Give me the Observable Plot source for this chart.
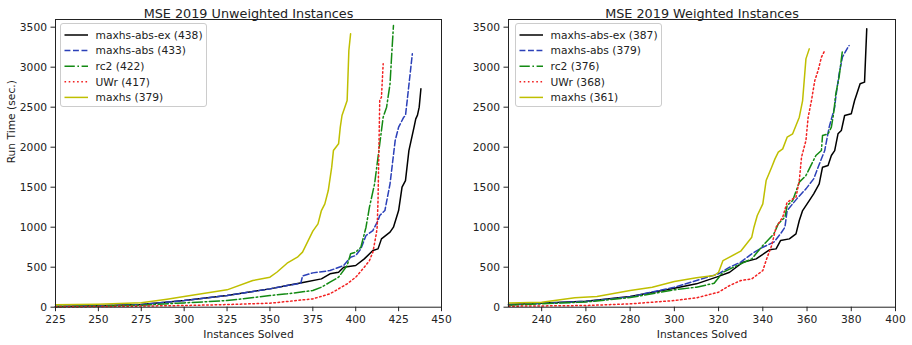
<!DOCTYPE html>
<html>
<head>
<meta charset="utf-8">
<script src="https://cdn.jsdelivr.net/npm/d3@7"></script>
<script src="https://cdn.jsdelivr.net/npm/@observablehq/plot@0.6"></script>
<style>
  body { margin: 0; background: #fff; font-family: "DejaVu Sans", sans-serif; }
  #wrap { position: relative; width: 912px; height: 345px; overflow: hidden; }
  .panel { position: absolute; top: 0; }
  .legend { position: absolute; box-sizing: border-box; border: 1px solid #cccccc; border-radius: 3px; background: rgba(255,255,255,0.8); }
</style>
</head>
<body>
<div id="wrap"></div>
<script>
// ---------- Data ----------
const seriesNames = ["maxhs-abs-ex", "maxhs-abs", "rc2", "UWr", "maxhs"];
const unweightedCounts = [438, 433, 422, 417, 379];
const weightedCounts = [387, 379, 376, 368, 361];
const titles = ["MSE 2019 Unweighted Instances", "MSE 2019 Weighted Instances"];
const xLabel = "Instances Solved";
const yLabel = "Run Time (sec.)";
const yTicks = [0, 500, 1000, 1500, 2000, 2500, 3000, 3500];
const xTicksUnweighted = [225, 250, 275, 300, 325, 350, 375, 400, 425, 450];
const xTicksWeighted = [240, 260, 280, 300, 320, 340, 360, 380, 400];

// Unweighted: [instances solved, run time]
const uw_maxhsAbsEx = [[225,10],[250,18],[275,35],[300,83],[325,146],[350,229],[360,271],[370,313],[380,354],[385,417],[390,437],[393,500],[400,521],[405,604],[410,708],[413,729],[415,854],[420,938],[422,1000],[425,1208],[427,1500],[429,1583],[431,1958],[434,2250],[435,2354],[436,2400],[437,2500],[438,2730]];
const uw_maxhsAbs = [[225,10],[250,18],[275,35],[300,83],[325,146],[350,229],[360,271],[368,300],[369,390],[375,429],[385,458],[393,521],[397,625],[400,646],[403,729],[406,896],[410,958],[411,1000],[413,1083],[414,1146],[417,1208],[420,1542],[423,2083],[425,2250],[428,2375],[429,2396],[430,2583],[433,3167]];
const uw_rc2 = [[225,8],[250,12],[275,25],[300,54],[325,83],[350,146],[360,167],[375,208],[380,250],[385,313],[390,375],[395,521],[397,667],[400,688],[403,750],[405,917],[406,1000],[408,1250],[411,1542],[414,2042],[416,2375],[418,2500],[420,2792],[421,3167],[422,3521]];
const uw_uwr = [[225,5],[250,8],[275,14],[300,21],[325,33],[350,50],[375,104],[385,167],[390,229],[395,292],[400,375],[405,500],[408,583],[410,688],[412,917],[412.5,1000],[413,1333],[413.5,1958],[414,2583],[415,2625],[416,3042]];
const uw_maxhs = [[225,30],[250,38],[275,55],[290,100],[300,133],[325,217],[340,333],[350,375],[354,437],[360,550],[366,625],[369,688],[375,950],[378,1042],[380,1208],[382,1292],[384,1458],[386,1750],[387,1958],[390,2042],[391,2250],[392,2396],[395,2583],[396,3208],[397,3417]];

// Weighted: [instances solved, run time]
const w_maxhsAbsEx = [[225,33],[260,75],[280,133],[300,237],[310,292],[320,385],[325,437],[331,563],[337,604],[343,717],[346,729],[348,833],[352,854],[355,917],[356.5,1083],[358,1208],[361,1333],[363,1417],[365.5,1542],[367,1750],[369.5,1771],[371,1896],[372.5,1958],[374,2167],[375.5,2208],[377,2396],[380,2417],[381.5,2583],[382,2625],[384,2792],[386,2813],[387,3479]];
const w_maxhsAbs = [[225,30],[260,72],[280,130],[300,250],[320,417],[325,500],[330,563],[335,667],[340,750],[345,813],[348,917],[350,1000],[351,1208],[353.5,1292],[356,1375],[359.5,1479],[363,1604],[365,1750],[368,1958],[370,2250],[372.5,2500],[373,2625],[374.5,2917],[376,3125],[378.5,3250],[379,3270]];
const w_rc2 = [[225,25],[260,65],[280,120],[300,217],[310,250],[318,300],[322,437],[330,542],[335,604],[340,771],[345,917],[347,1042],[350,1125],[351,1271],[353.5,1333],[356.5,1563],[359.5,1646],[364,1896],[366.5,1958],[367,2146],[369.5,2167],[371,2250],[372,2417],[373,2667],[374.5,2875],[376,3208]];
const w_uwr = [[225,12],[260,21],[280,42],[300,83],[310,117],[320,188],[325,271],[330,333],[335,354],[338,417],[340,458],[342,625],[344,771],[346,1000],[347,1042],[349,1125],[351,1313],[355,1375],[356.5,1583],[357.5,1875],[359.5,2083],[360.5,2375],[362,2583],[363.5,2833],[365,2958],[366.5,3125],[368,3208]];
const w_maxhs = [[225,54],[240,63],[255,117],[265,133],[280,208],[290,250],[300,321],[310,367],[318,396],[320,437],[322,583],[330,700],[335,875],[336,1000],[337.5,1146],[340,1292],[341.5,1583],[344,1750],[345.5,1854],[347,1938],[349,1979],[351,2125],[353.5,2167],[355,2271],[356.5,2375],[358,2583],[359.5,3104],[361,3229]];

// ---------- Styles ----------
const seriesStyles = [
  {stroke: "#000000", dash: null},
  {stroke: "#2b40b8", dash: "5.9,2.6"},
  {stroke: "#138a13", dash: "10.3,2.6,1.6,2.6"},
  {stroke: "#f22222", dash: "1.6,2.6"},
  {stroke: "#bfbf00", dash: null}
];
const FS = 10.7, TFS = 12.8, LW = 1.5;

function panel({left, width, marginLeft, marginRight, domainX, xTicks, title, series, counts, showYLabel, legendLeft}) {
  const marks = [];
  series.forEach((data, i) => {
    const s = seriesStyles[i];
    marks.push(Plot.line(data, {x: d => d[0], y: d => d[1], stroke: s.stroke, strokeWidth: LW, strokeDasharray: s.dash}));
  });
  marks.push(Plot.frame({stroke: "#222", strokeWidth: 1}));
  marks.push(Plot.axisX({ticks: xTicks, tickFormat: d3.format("d"), tickSize: 4.5, tickPadding: 3.5, label: null, fontSize: FS}));
  marks.push(Plot.axisY({ticks: yTicks, tickFormat: d3.format("d"), tickSize: 4.5, tickPadding: 4, label: null, fontSize: FS}));
  marks.push(Plot.text([title], {frameAnchor: "top", dy: -10.5, fontSize: TFS, fill: "#222"}));
  marks.push(Plot.text([xLabel], {frameAnchor: "bottom", dy: 30.5, fontSize: FS, fill: "#222"}));
  if (showYLabel) marks.push(Plot.text([yLabel], {frameAnchor: "left", dx: -44, rotate: -90, fontSize: FS, fill: "#222"}));
  const chart = Plot.plot({
    width, height: 345,
    marginLeft, marginRight, marginTop: 19, marginBottom: 38.3,
    x: {domain: domainX},
    y: {domain: [0, 3596]},
    style: {fontFamily: "DejaVu Sans", fontSize: FS + "px", color: "#222", background: "transparent", overflow: "visible"},
    marks
  });
  chart.classList.add("panel");
  chart.style.left = left + "px";
  document.getElementById("wrap").appendChild(chart);

  // legend
  const lg = d3.select("#wrap").append("div").attr("class", "legend")
    .style("left", legendLeft + "px").style("top", "23px").style("width", "147px").style("height", "84px");
  const svg = lg.append("svg").attr("width", 147).attr("height", 84).style("display", "block").style("overflow", "visible");
  seriesNames.forEach((name, i) => {
    const y = 11 + i * 15.6;
    const s = seriesStyles[i];
    svg.append("line").attr("x1", 3.5).attr("x2", 27).attr("y1", y).attr("y2", y)
      .attr("stroke", s.stroke).attr("stroke-width", LW).attr("stroke-dasharray", s.dash);
    svg.append("text").attr("x", 34.5).attr("y", y).attr("dy", "0.35em")
      .attr("font-family", "DejaVu Sans").attr("font-size", FS).attr("fill", "#222")
      .text(`${name} (${counts[i]})`);
  });
}

panel({left: 0, width: 456, marginLeft: 55, marginRight: 15, domainX: [225, 450], xTicks: xTicksUnweighted,
  title: titles[0], series: [uw_maxhsAbsEx, uw_maxhsAbs, uw_rc2, uw_uwr, uw_maxhs], counts: unweightedCounts,
  showYLabel: true, legendLeft: 60});
panel({left: 456, width: 456, marginLeft: 52, marginRight: 17, domainX: [225, 400], xTicks: xTicksWeighted,
  title: titles[1], series: [w_maxhsAbsEx, w_maxhsAbs, w_rc2, w_uwr, w_maxhs], counts: weightedCounts,
  showYLabel: false, legendLeft: 515});
</script>
</body>
</html>
